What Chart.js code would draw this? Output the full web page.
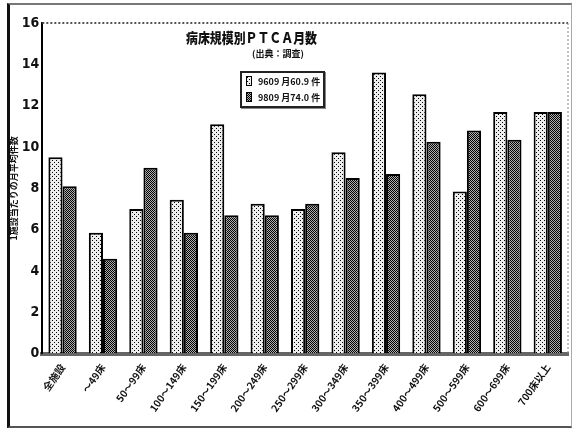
<!DOCTYPE html>
<html lang="ja">
<head>
  <meta charset="UTF-8" />
  <meta name="viewport" content="width=device-width, initial-scale=1" />
  <title>病床規模別ＰＴＣＡ月数</title>
  <script src="https://cdn.jsdelivr.net/npm/chart.js"></script>
  <style>
    body {
      margin: 0;
      background-color: #fff;
      font-family: "Noto Sans CJK JP", sans-serif;
    }

    #wrap {
      position: relative;
      width: 572px;
      height: 429px;
      overflow: hidden;
    }

    #frame {
      position: absolute;
      left: 7px;
      top: 3px;
      width: 561px;
      height: 421px;
      border-left: 3px solid #111;
      border-top: 2px solid #777;
      border-bottom: 2px solid #555;
      border-right: 1px solid #aaa;
    }

    canvas#myChart {
      position: absolute;
      left: 0;
      top: 0;
    }

    #title {
      position: absolute;
      left: 176px;
      top: 27px;
      width: 134px;
      text-align: center;
      font-size: 14px;
      font-weight: 900;
      color: #111;
      white-space: nowrap;
      transform: scaleX(0.85);
    }

    #subtitle {
      position: absolute;
      left: 252px;
      top: 47px;
      font-size: 9px;
      font-weight: bold;
      color: #111;
      white-space: nowrap;
    }

    #legend {
      position: absolute;
      left: 240px;
      top: 71px;
      width: 81px;
      height: 33px;
      border: 2px solid #222;
      box-shadow: 1px 1px 0 #888;
      background: #fff;
      font-size: 9px;
      font-weight: bold;
      color: #111;
    }

    .item {
      display: flex;
      align-items: center;
      height: 16px;
      padding-left: 4px;
      white-space: nowrap;
    }

    .swatch {
      display: inline-block;
      width: 4px;
      height: 8px;
      margin-right: 6px;
      border: 1px solid #000;
    }
  </style>
</head>
<body>
  <div id="wrap">
    <div id="frame"></div>
    <canvas id="myChart" width="572" height="429"></canvas>
    <div id="title">病床規模別ＰＴＣＡ月数</div>
    <div id="subtitle">(出典：調査)</div>
    <div id="legend"></div>
  </div>

  <script>
    const categories = [
      '全施設', '〜49床', '50〜99床', '100〜149床', '150〜199床', '200〜249床', '250〜299床',
      '300〜349床', '350〜399床', '400〜499床', '500〜599床', '600〜699床', '700床以上'
    ];
    const series1996 = [9.5, 5.85, 7.0, 7.45, 11.1, 7.25, 7.0, 9.75, 13.6, 12.55, 7.85, 11.7, 11.7];
    const series1998 = [8.1, 4.6, 9.0, 5.85, 6.7, 6.7, 7.25, 8.5, 8.7, 10.25, 10.8, 10.35, 11.7];
    const seriesLabels = ['9609 月60.9 件', '9809 月74.0 件'];
    const yMin = 0;
    const yMax = 16;
    const yStep = 2;
    const yTitle = '1施設当たりの月平均件数';

    // dotted fills like the scanned original
    function makeTile(dots, bg) {
      const c = document.createElement('canvas');
      c.width = 4;
      c.height = 4;
      const g = c.getContext('2d');
      g.fillStyle = bg;
      g.fillRect(0, 0, 4, 4);
      g.fillStyle = '#000';
      dots.forEach(([x, y]) => g.fillRect(x, y, 1, 1));
      return c;
    }

    const lightTile = makeTile([[0, 0], [2, 2]], '#eeeeee');
    const darkTile = makeTile([[0, 0], [2, 0], [1, 1], [3, 1], [0, 2], [2, 2], [1, 3], [3, 3]], '#b0b0b0');

    const ctx = document.getElementById('myChart').getContext('2d');
    const lightFill = ctx.createPattern(lightTile, 'repeat');
    const darkFill = ctx.createPattern(darkTile, 'repeat');

    // legend built from the same series labels
    const legendEl = document.getElementById('legend');
    [[seriesLabels[0], lightTile], [seriesLabels[1], darkTile]].forEach(([text, tile]) => {
      const row = document.createElement('div');
      row.className = 'item';
      const sw = document.createElement('span');
      sw.className = 'swatch';
      sw.style.backgroundImage = `url(${tile.toDataURL()})`;
      row.appendChild(sw);
      row.appendChild(document.createTextNode(text));
      legendEl.appendChild(row);
    });

    const plotFrame = {
      id: 'plotFrame',
      afterDraw(chart) {
        const { ctx, chartArea: a } = chart;
        ctx.save();
        ctx.strokeStyle = '#555';
        ctx.lineWidth = 2;
        ctx.setLineDash([2, 2]);
        ctx.beginPath();
        ctx.moveTo(a.left, a.top);
        ctx.lineTo(a.right, a.top);
        ctx.stroke();
        ctx.lineWidth = 1;
        ctx.strokeStyle = '#888';
        ctx.beginPath();
        ctx.moveTo(a.right, a.top);
        ctx.lineTo(a.right, a.bottom);
        ctx.stroke();
        ctx.restore();
      }
    };

    new Chart(ctx, {
      type: 'bar',
      data: {
        labels: categories,
        datasets: [
          {
            label: seriesLabels[0],
            data: series1996,
            backgroundColor: lightFill,
            borderColor: '#000',
            borderWidth: 2,
            borderSkipped: 'bottom'
          },
          {
            label: seriesLabels[1],
            data: series1998,
            backgroundColor: darkFill,
            borderColor: '#000',
            borderWidth: 2,
            borderSkipped: 'bottom'
          }
        ]
      },
      options: {
        responsive: false,
        animation: false,
        layout: {
          padding: { left: 8, top: 23, right: 4, bottom: 7 }
        },
        datasets: {
          bar: {
            categoryPercentage: 0.7,
            barPercentage: 1.0
          }
        },
        scales: {
          x: {
            grid: { drawOnChartArea: false, drawTicks: false },
            border: { display: true, color: '#666', width: 4 },
            ticks: {
              autoSkip: false,
              minRotation: 55,
              maxRotation: 55,
              padding: 8,
              color: '#111',
              font: { family: '"Noto Sans CJK JP", sans-serif', size: 10, weight: 'bold' }
            }
          },
          y: {
            min: yMin,
            max: yMax,
            grid: { drawOnChartArea: false, drawTicks: false },
            border: { display: true, color: '#000', width: 2 },
            ticks: {
              stepSize: yStep,
              padding: 3,
              color: '#111',
              font: { family: '"Liberation Sans Narrow", "DejaVu Sans Condensed", sans-serif', size: 14, weight: 'bold' }
            },
            title: {
              display: true,
              text: yTitle,
              color: '#111',
              padding: 0,
              font: { family: '"Noto Sans CJK JP", sans-serif', size: 9, weight: 'bold' }
            }
          }
        },
        plugins: {
          legend: { display: false },
          tooltip: { enabled: false }
        }
      },
      plugins: [plotFrame]
    });
  </script>
</body>
</html>
